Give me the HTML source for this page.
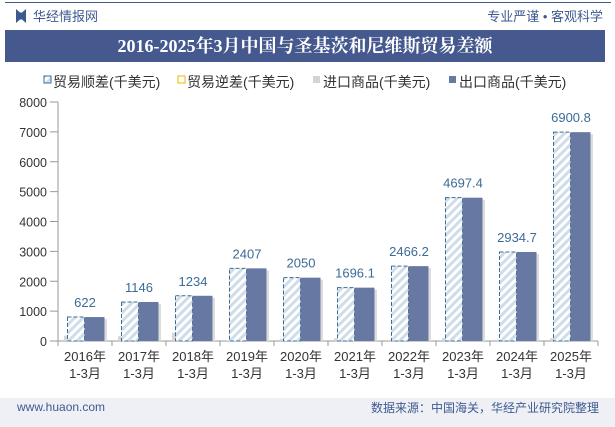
<!DOCTYPE html>
<html><head><meta charset="utf-8"><style>
body{margin:0;width:615px;height:427px;background:#fff;font-family:"Liberation Sans","Noto Sans CJK SC",sans-serif;overflow:hidden;position:relative}
.abs{position:absolute}
</style></head><body>
<div class="abs" style="left:5px;top:2px;width:606px;height:1px;background:#3d5a8f"></div>
<div class="abs" style="left:16px;top:9px;width:10px;height:14px;background:#3d5a8f;clip-path:polygon(0 0,40% 25%,60% 25%,100% 0,100% 100%,60% 75%,40% 75%,0 100%)"></div>
<div class="abs" style="left:33px;top:6px;font-size:13px;color:#3d5a8f">华经情报网</div>
<div class="abs" style="right:12px;top:6px;font-size:13px;color:#3d5a8f">专业严谨 • 客观科学</div>
<div class="abs" style="left:5px;top:30px;width:600px;height:32px;background:#45598e;color:#fff;font-family:'Liberation Serif','Noto Serif CJK SC',serif;font-weight:bold;font-size:18px;text-align:center;line-height:32px">2016-2025年3月中国与圣基茨和尼维斯贸易差额</div>
<svg class="abs" style="left:0;top:0" width="615" height="427">
<defs><pattern id="hatch" width="6" height="6" patternUnits="userSpaceOnUse" patternTransform="rotate(45)"><rect width="6" height="6" fill="#fff"/><rect width="3" height="6" fill="#cfdde8"/></pattern></defs>
<g id="legend" font-size="14" fill="#333">
<rect x="44" y="76" width="7" height="7" fill="url(#hatch)" stroke="#3b6b97" stroke-width="1"/>
<text x="53" y="87">贸易顺差(千美元)</text>
<rect x="178" y="76" width="7" height="7" fill="#fff" stroke="#f0b400"/>
<text x="187" y="87">贸易逆差(千美元)</text>
<rect x="313" y="76" width="7" height="7" fill="#d3d3d3"/>
<text x="323" y="87">进口商品(千美元)</text>
<rect x="449" y="76" width="7" height="7" fill="#6779a3"/>
<text x="459" y="87">出口商品(千美元)</text>
</g>
<g id="plot"></g>
</svg>
<div class="abs" style="left:0;top:398px;width:615px;height:29px;background:#eef0f5"></div>
<div class="abs" style="left:17px;top:400px;font-size:12px;color:#3d5a8f">www.huaon.com</div>
<div class="abs" style="right:16px;top:399px;font-size:12px;color:#3d5a8f">数据来源：中国海关，华经产业研究院整理</div>
<script>
const categories=["2016年|1-3月","2017年|1-3月","2018年|1-3月","2019年|1-3月","2020年|1-3月","2021年|1-3月","2022年|1-3月","2023年|1-3月","2024年|1-3月","2025年|1-3月"];
const surplus=[622,1146,1234,2407,2050,1696.1,2466.2,4697.4,2934.7,6900.8];
const surplusLabels=["622","1146","1234","2407","2050","1696.1","2466.2","4697.4","2934.7","6900.8"];
const imports=[180,160,280,25,70,90,40,100,45,90];
const exports_=[802,1306,1514,2432,2120,1786,2506,4797,2980,6991];
const yTicks=[0,1000,2000,3000,4000,5000,6000,7000,8000];
const NS="http://www.w3.org/2000/svg";
const g=document.getElementById('plot');
const x0=58,x1=598,y0=341,yTop=102,yMax=8000;
const band=(x1-x0)/categories.length;
const y=v=>y0-(v/yMax)*(y0-yTop);
const xc=i=>x0+band*(i+0.5);
function mk(t,a){const e=document.createElementNS(NS,t);for(const k in a)e.setAttribute(k,a[k]);g.appendChild(e);return e;}
yTicks.forEach(t=>{const e=mk('text',{x:47,y:y(t)+5,'text-anchor':'end','font-size':12.5,fill:'#333'});e.textContent=t;


mk('line',{x1:50,x2:x0,y1:y(t),y2:y(t),stroke:'#999'});});
let ax=mk('line',{x1:x0,x2:x0,y1:yTop,y2:y0,stroke:'#999'});


let bx=mk('line',{x1:x0,x2:x1,y1:y0,y2:y0,stroke:'#999'});


categories.forEach((c,i)=>{
 const cx=xc(i);
 mk('line',{x1:x0+band*i,x2:x0+band*i,y1:y0,y2:y0+5,stroke:'#999'});
 if(i==categories.length-1)mk('line',{x1:x1,x2:x1,y1:y0,y2:y0+5,stroke:'#999'});
 const im=mk('rect',{x:cx-21,y:y(imports[i]),width:21,height:y0-y(imports[i]),fill:'#d6d6d6'});
 
 
 const top=y(surplus[i]+imports[i]);
 const sb=mk('rect',{x:cx-17.5,y:top,width:17,height:y0-top,fill:'url(#hatch)',stroke:'#3b6b97','stroke-dasharray':'4,2','stroke-width':1});
 
 
 mk('rect',{x:cx+2,y:y(exports_[i])+2,width:20,height:y0-y(exports_[i])-2,fill:'#ddd'});
 const eb=mk('rect',{x:cx-0.5,y:y(exports_[i]),width:20,height:y0-y(exports_[i]),fill:'#6779a3'});
 
 
 const lb=mk('text',{x:cx,y:y(exports_[i])-10,'text-anchor':'middle','font-size':13,fill:'#3b6b97'});lb.textContent=surplusLabels[i];
 
 
 const parts=c.split('|');
 parts.forEach((p,j)=>{const t=mk('text',{x:cx,y:361+j*17,'text-anchor':'middle','font-size':13,fill:'#333'});t.textContent=p;
 
 });
});
</script>
</body></html>
